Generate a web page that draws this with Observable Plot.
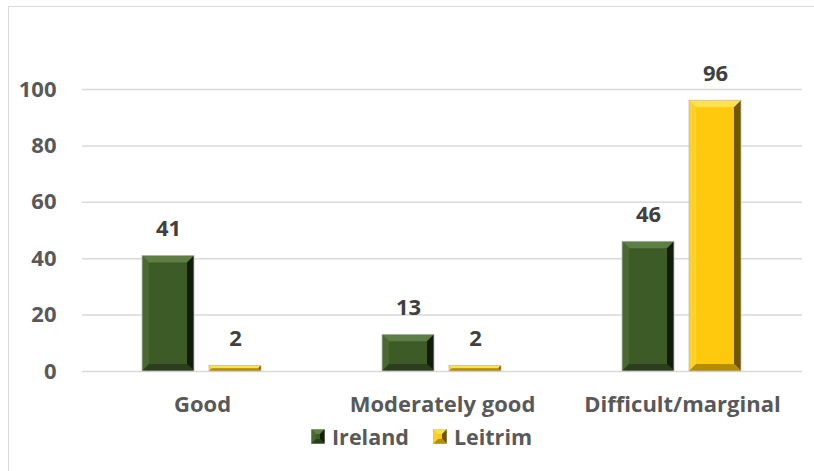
<!DOCTYPE html>
<html>
<head>
<meta charset="utf-8">
<script src="https://cdn.jsdelivr.net/npm/d3@7"></script>
<script src="https://cdn.jsdelivr.net/npm/@observablehq/plot@0.6"></script>
<style>
  body { margin: 0; background: #fff; font-family: "Open Sans", sans-serif; }
  #chart { position: relative; width: 814px; height: 471px; overflow: hidden; background: #fff; }
  #frame { position: absolute; left: 8px; top: 6px; width: 830px; height: 490px;
           border: 1.5px solid #d9d9d9; box-sizing: border-box; }
  #plot { position: absolute; left: 0; top: 0; }
  #legend { position: absolute; left: 311px; top: 422px; display: flex; align-items: center;
            font-family: "Open Sans", sans-serif; font-weight: 700; font-size: 21.5px; color: #595959; }
  #legend .item { display: flex; align-items: center; margin-right: 24px; }
  #legend svg { margin-right: 7px; }
</style>
</head>
<body>
<div id="chart">
  <div id="frame"></div>
  <div id="plot"></div>
  <div id="legend"></div>
</div>
<script>
// Land suitability shares (%) by category
const categories = ["Good", "Moderately good", "Difficult/marginal"];
const series = ["Ireland", "Leitrim"];
const ireland = [41, 13, 46];
const leitrim = [2, 2, 96];
const yTicks = [0, 20, 40, 60, 80, 100];
const seriesColors = ["#3d5b27", "#ffc90d"];

// Bevel shading for each series: top, left, right, bottom edges
const bevelPalettes = {
  "#3d5b27": { top: "#5d7f43", left: "#486a30", right: "#131d0b", bottom: "#2a3d1d" },
  "#ffc90d": { top: "#ffe24d", left: "#ffd12a", right: "#6f5600", bottom: "#b58d00" }
};

const rows = [];
categories.forEach((c, i) => {
  rows.push({ category: c, series: series[0], value: ireland[i] });
  rows.push({ category: c, series: series[1], value: leitrim[i] });
});

const plot = Plot.plot({
  width: 814,
  height: 430,
  marginLeft: 81,
  marginRight: 12,
  marginTop: 89,
  marginBottom: 59,
  style: { fontFamily: "Open Sans", fontSize: "22px", fontWeight: 700, color: "#595959", background: "transparent", overflow: "visible" },
  fx: { domain: categories, padding: 0, label: null },
  x: { domain: series, paddingInner: 0.22, paddingOuter: 0.88, axis: null },
  y: { domain: [0, 100], ticks: yTicks, label: null },
  color: { domain: series, range: seriesColors },
  marks: [
    Plot.ruleY(yTicks, { stroke: "#d9d9d9", strokeWidth: 1.5 }),
    Plot.axisY(yTicks, { tickSize: 0, tickPadding: 26, fill: "#595959", fontSize: 22, fontWeight: 700, label: null }),
    Plot.axisFx({ anchor: "bottom", tickSize: 0, tickPadding: 25, fill: "#595959", fontSize: 22, fontWeight: 700, label: null }),
    Plot.barY(rows, { fx: "category", x: "series", y: "value", fill: "series" }),
    Plot.text(rows, { fx: "category", x: "series", y: "value", text: d => String(d.value), dy: -27,
                      fill: "#404040", fontSize: 22, fontWeight: 700 })
  ]
});

// Draw bevelled edges over a rectangle
function bevel(parent, x, y, w, h, face, size) {
  const pal = bevelPalettes[face];
  const b = Math.min(size, w / 2, h / 2);
  const pts = a => a.map(p => p.join(",")).join(" ");
  const g = parent.append("g");
  g.append("polygon").attr("points", pts([[x, y], [x + w, y], [x + w - b, y + b], [x + b, y + b]])).attr("fill", pal.top);
  g.append("polygon").attr("points", pts([[x, y], [x + b, y + b], [x + b, y + h - b], [x, y + h]])).attr("fill", pal.left);
  g.append("polygon").attr("points", pts([[x + w, y], [x + w, y + h], [x + w - b, y + h - b], [x + w - b, y + b]])).attr("fill", pal.right);
  g.append("polygon").attr("points", pts([[x, y + h], [x + w, y + h], [x + w - b, y + h - b], [x + b, y + h - b]])).attr("fill", pal.bottom);
  g.append("rect").attr("x", x).attr("y", y).attr("width", w).attr("height", h)
    .attr("fill", "none").attr("stroke", "#bfbfbf").attr("stroke-width", 0.8);
}

d3.select(plot).selectAll("rect").each(function () {
  const r = d3.select(this);
  const face = (r.attr("fill") || "").toLowerCase();
  if (!bevelPalettes[face]) return;
  bevel(d3.select(this.parentNode), +r.attr("x"), +r.attr("y"), +r.attr("width"), +r.attr("height"), face, 7);
});

document.getElementById("plot").appendChild(plot);

// Legend
const legend = d3.select("#legend");
series.forEach((s, i) => {
  const item = legend.append("div").attr("class", "item");
  const sw = item.append("svg").attr("width", 14).attr("height", 15);
  sw.append("rect").attr("width", 14).attr("height", 15).attr("fill", seriesColors[i]);
  bevel(sw, 0, 0, 14, 15, seriesColors[i], 5);
  item.append("span").text(s);
});
</script>
</body>
</html>
